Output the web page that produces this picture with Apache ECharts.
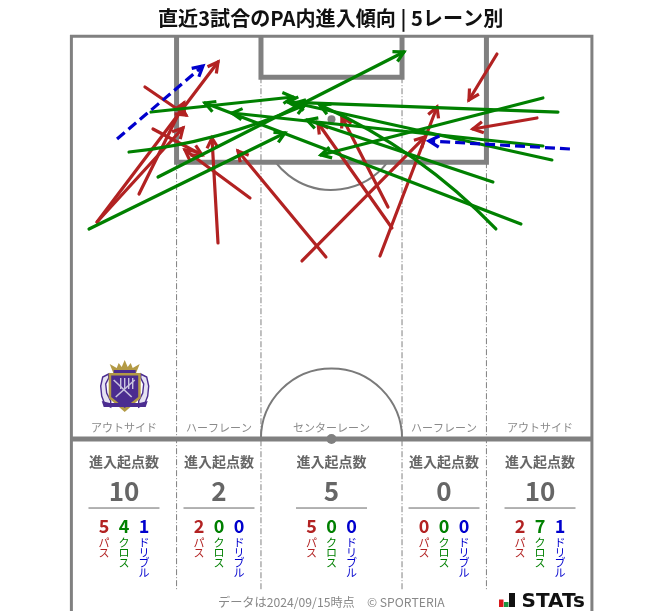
<!DOCTYPE html>
<html><head><meta charset="utf-8">
<style>html,body{margin:0;padding:0;background:#fff}#c{width:663px;height:611px}</style>
<script src="https://cdn.jsdelivr.net/npm/echarts@6/dist/echarts.min.js"></script>
</head><body><div id="c"></div>
<script>
// Arrows in pitch metres: [startX, startY, endX, endY, (ctrlX, ctrlY)]; y measured from the goal line
const passArrows = [
  [9.56,6.55,14.93,10.22],[3.28,24.24,19.13,3.28],[8.78,20.57,14.67,8.65],[3.28,24.24,14.54,11.92],
  [10.61,12.05,17.03,15.46],[19.13,26.99,18.34,13.23],[23.32,21.09,14.80,14.80],
  [33.27,28.82,21.75,14.93],[30.13,29.34,46.24,13.10],[41.40,22.27,35.37,10.48],
  [41.92,25.02,32.23,11.27],[40.35,28.69,47.82,9.17],[55.68,2.23,52.01,8.25],[60.92,10.61,52.53,12.05]
];
const crossArrows = [
  [2.23,25.15,27.90,12.58],[7.47,15.07,30.52,8.91,19.0,13.89],[10.35,9.83,28.95,7.86],[11.27,18.34,43.49,1.97],
  [61.70,7.99,32.62,15.46],[63.67,9.83,28.30,8.52],[61.70,14.28,20.96,9.96],[62.88,16.11,29.21,8.65],
  [55.15,19.00,30.79,10.87],[58.82,24.50,17.42,8.65],[55.54,25.15,32.49,8.91,45.59,14.80]
];
const dribbleArrows = [[5.90,13.36,17.16,3.80],[65.24,14.67,46.77,13.62]];

const laneNames = ['アウトサイド','ハーフレーン','センターレーン','ハーフレーン','アウトサイド'];
const laneCentres = [6.81,19.26,34,48.74,61.32];
const laneTotals = [10,2,5,0,10];
const lanePasses = [5,2,5,0,2];
const laneCrosses = [4,0,0,0,7];
const laneDribbles = [1,0,0,0,1];

const kindLabels = ['パス','クロス','ドリブル'];
const titleText = '直近3試合のPA内進入傾向 | 5レーン別';
const statLabel = '進入起点数';
const footerText = 'データは2024/09/15時点　© SPORTERIA';

// Pitch geometry in metres
const pitchW = 68, halfLen = 52.67, viewLen = 75.2;
const paL = 13.7, paR = 54.3, paD = 16.4;
const gaL = 24.76, gaR = 43.24, gaD = 5.27;
const spotD = 10.78, arcR = 9.25, laneEnd = 72.46;

const FONT = '"Noto Sans CJK JP","Noto Sans",sans-serif';
const RED = '#b22222', GREEN = '#008000', BLUE = '#0000cd', GREY = '#808080', TXT = '#666666';
const kindColors = [RED, GREEN, BLUE];

function pad(rows){ return rows.map(r => r.length === 6 ? r : r.concat(['-','-'])); }

function arrowSeries(name, color, rows, dash){
  return {
    type:'custom', name, coordinateSystem:'cartesian2d', clip:false, silent:true, z:5,
    data: pad(rows),
    dimensions:['x1','y1','x2','y2','cx','cy'],
    encode:{x:[0,2],y:[1,3]},
    renderItem(params, api){
      const a = api.coord([api.value(0),api.value(1)]);
      const b = api.coord([api.value(2),api.value(3)]);
      const hasC = !isNaN(api.value(4));
      const c = hasC ? api.coord([api.value(4),api.value(5)]) : null;
      const from = hasC ? c : a;
      const ang = Math.atan2(b[1]-from[1], b[0]-from[0]);
      const L = 11.5, S = 0.5;
      const p1 = [b[0]-L*Math.cos(ang-S), b[1]-L*Math.sin(ang-S)];
      const p2 = [b[0]-L*Math.cos(ang+S), b[1]-L*Math.sin(ang+S)];
      const W = 3.2;
      const st = {stroke:color, lineWidth:W, fill:null, lineCap:dash?'butt':'round'};
      const line = hasC
        ? {type:'bezierCurve', shape:{x1:a[0],y1:a[1],x2:b[0],y2:b[1],cpx1:c[0],cpy1:c[1]}, style:st}
        : {type:'line', shape:{x1:a[0],y1:a[1],x2:b[0],y2:b[1]}, style:Object.assign({}, st, dash?{lineDash:[10,5]}:{})};
      return {type:'group', children:[
        line,
        {type:'polyline', shape:{points:[p1,b,p2]}, style:{stroke:color,lineWidth:W,fill:null,lineJoin:'miter'}}
      ]};
    }
  };
}

const pitchSeries = {
  type:'custom', coordinateSystem:'cartesian2d', clip:false, silent:true, z:2,
  data:[[0,0]],
  renderItem(params, api){
    const P = (x,y) => api.coord([x,y]);
    const unit = api.size([1,1])[0];
    const ln = (x1,y1,x2,y2,w,dash) => {
      const a=P(x1,y1), b=P(x2,y2);
      return {type:'line', shape:{x1:a[0],y1:a[1],x2:b[0],y2:b[1]},
        style:{stroke:GREY, lineWidth:w, lineDash:dash||null}};
    };
    const poly = (pts,w) => ({type:'polyline', shape:{points:pts.map(p=>P(p[0],p[1]))},
      style:{stroke:GREY, lineWidth:w, fill:null, lineJoin:'miter'}});
    const arc = (x,y,r,s,e,w) => { const c=P(x,y); return {type:'arc',
      shape:{cx:c[0],cy:c[1],r:r*unit,startAngle:s,endAngle:e,clockwise:true},
      style:{stroke:'#7a7a7a',lineWidth:w,fill:null}}; };
    const dot = (x,y,r) => { const c=P(x,y); return {type:'circle', shape:{cx:c[0],cy:c[1],r}, style:{fill:GREY}}; };
    const dd = [6,2,1,2];
    const dropPA = Math.acos(Math.min(1,(paD-spotD)/arcR));
    return {type:'group', children:[
      ln(paL,paD,paL,laneEnd,1,dd), ln(paR,paD,paR,laneEnd,1,dd),
      ln(gaL,gaD,gaL,laneEnd,1,dd), ln(gaR,gaD,gaR,laneEnd,1,dd),
      arc(34,spotD,arcR,Math.PI/2-dropPA,Math.PI/2+dropPA,2),
      arc(34,halfLen,arcR,Math.PI,2*Math.PI,2),
      poly([[-0.08,viewLen],[-0.08,-0.1],[pitchW+0.12,-0.1],[pitchW+0.12,viewLen]],3),
      poly([[paL,0],[paL,paD],[paR,paD],[paR,0]],5),
      poly([[gaL,0],[gaL,gaD],[gaR,gaD],[gaR,0]],5),
      ln(0,halfLen,pitchW,halfLen,5),
      dot(34,spotD,4), dot(34,halfLen,5)
    ]};
  }
};

const laneSeries = {
  type:'custom', coordinateSystem:'cartesian2d', clip:false, silent:true, z:4,
  data: laneCentres.map((c,i)=>[c,laneTotals[i],lanePasses[i],laneCrosses[i],laneDribbles[i],i]),
  renderItem(params, api){
    const i = api.value(5), cx = api.value(0);
    const at = y => api.coord([cx,y]);
    const txt = (y,dx,s,size,weight,color,lh,va) => {
      const p = at(y);
      return {type:'text', x:p[0]+dx, y:p[1], style:{text:s, font:`${weight} ${size}px ${FONT}`,
        fontSize:size, fontWeight:weight, fontFamily:FONT, fill:color, align:'center', verticalAlign:va||'middle', lineHeight:lh||undefined}};
    };
    const kids = [
      txt(51.23,0,laneNames[i],11,'normal','#8a8a8a'),
      txt(55.69,0,statLabel,14,'bold',TXT),
      txt(59.5,0,String(api.value(1)),26,'bold',TXT)
    ];
    const a = at(61.71);
    kids.push({type:'line', shape:{x1:a[0]-35.5,y1:a[1],x2:a[0]+35.5,y2:a[1]}, style:{stroke:'#666',lineWidth:1}});
    [2,3,4].forEach((d,k)=>{
      const dx = (k-1)*20;
      kids.push(txt(64.07,dx,String(api.value(d)),18,'bold',kindColors[k]));
      kids.push(txt(65.65,dx,kindLabels[k].split('').join('\n'),11,'normal',kindColors[k],10,'top'));
    });
    return {type:'group', children:kids};
  }
};

const G = (type,shape,style,extra) => Object.assign({type,shape,style,silent:true,z:10},extra||{});
const PUR = '#4b2c90', GOLD = '#b39a45', PALE = '#c9c3de';
const emblem = {
  type:'group', left:100, top:360, silent:true,
  children:[
    // wings
    G('polygon',{points:[[8,14],[2,17],[0,26],[1,36],[4,44],[10,47],[10,41],[6,33],[5,24],[8,18]]},{fill:'#e6e2f2',stroke:PUR,lineWidth:1.4}),
    G('polygon',{points:[[40,14],[46,17],[48,26],[47,36],[44,44],[38,47],[38,41],[42,33],[43,24],[40,18]]},{fill:'#e6e2f2',stroke:PUR,lineWidth:1.4}),
    // crown
    G('polygon',{points:[[13,14],[9,4],[16,8],[18,3],[21,7],[24,0],[27,7],[30,3],[32,8],[39,4],[35,14]]},{fill:GOLD}),
    G('rect',{x:13,y:10,width:22,height:3},{fill:PUR}),
    // shield
    G('polygon',{points:[[8,13],[40,13],[40,38],[24,52],[8,38]]},{fill:GOLD}),
    G('polygon',{points:[[10.5,15.5],[37.5,15.5],[37.5,37],[24,48],[10.5,37]]},{fill:PUR}),
    G('line',{x1:13,y1:20,x2:31,y2:37},{stroke:PALE,lineWidth:1.6}),
    G('line',{x1:15,y1:37,x2:34,y2:20},{stroke:PALE,lineWidth:1.6}),
    G('line',{x1:20,y1:18,x2:20,y2:29},{stroke:PALE,lineWidth:1.4}),
    G('line',{x1:24,y1:18,x2:24,y2:29},{stroke:PALE,lineWidth:1.4}),
    G('line',{x1:28,y1:18,x2:28,y2:29},{stroke:PALE,lineWidth:1.4}),
    G('line',{x1:32,y1:18,x2:32,y2:29},{stroke:PALE,lineWidth:1.4}),
    // ribbon
    G('polygon',{points:[[1,41],[9,43],[39,43],[47,41],[45,47],[36,47],[12,47],[3,47]]},{fill:PUR})
  ]
};
const statsLogo = {
  type:'group', left:499, top:592, silent:true,
  children:[
    G('rect',{x:0,y:6.5,width:4.5,height:7.5},{fill:'#d7191c'}),
    G('rect',{x:5,y:9,width:4.5,height:5},{fill:'#1a9641'}),
    G('rect',{x:10,y:0,width:6,height:14},{fill:'#111'}),
    {type:'text', x:22.5, y:-1, silent:true, z:10, style:{text:'STATs', font:`bold 20px "DejaVu Sans",sans-serif`, fill:'#111'}}
  ]
};

const option = {
  animation:false, backgroundColor:'#fff',
  title:{text:titleText, left:153, top:3, textStyle:{fontFamily:FONT, fontSize:20.1, fontWeight:'bold', color:'#111'}},
  grid:{left:72, right:72, top:37, bottom:0, containLabel:false},
  xAxis:{type:'value', min:0, max:pitchW, show:false},
  yAxis:{type:'value', min:0, max:viewLen, inverse:true, show:false},
  graphic:[
    emblem, statsLogo,
    {type:'text', left:218, top:596, silent:true, style:{text:footerText, font:`12.2px ${FONT}`, fill:'#888'}}
  ],
  series:[
    pitchSeries, laneSeries,
    arrowSeries('パス',RED,passArrows,false),
    arrowSeries('クロス',GREEN,crossArrows,false),
    arrowSeries('ドリブル',BLUE,dribbleArrows,true)
  ]
};
echarts.init(document.getElementById('c'),null,{renderer:'canvas'}).setOption(option);
</script></body></html>
